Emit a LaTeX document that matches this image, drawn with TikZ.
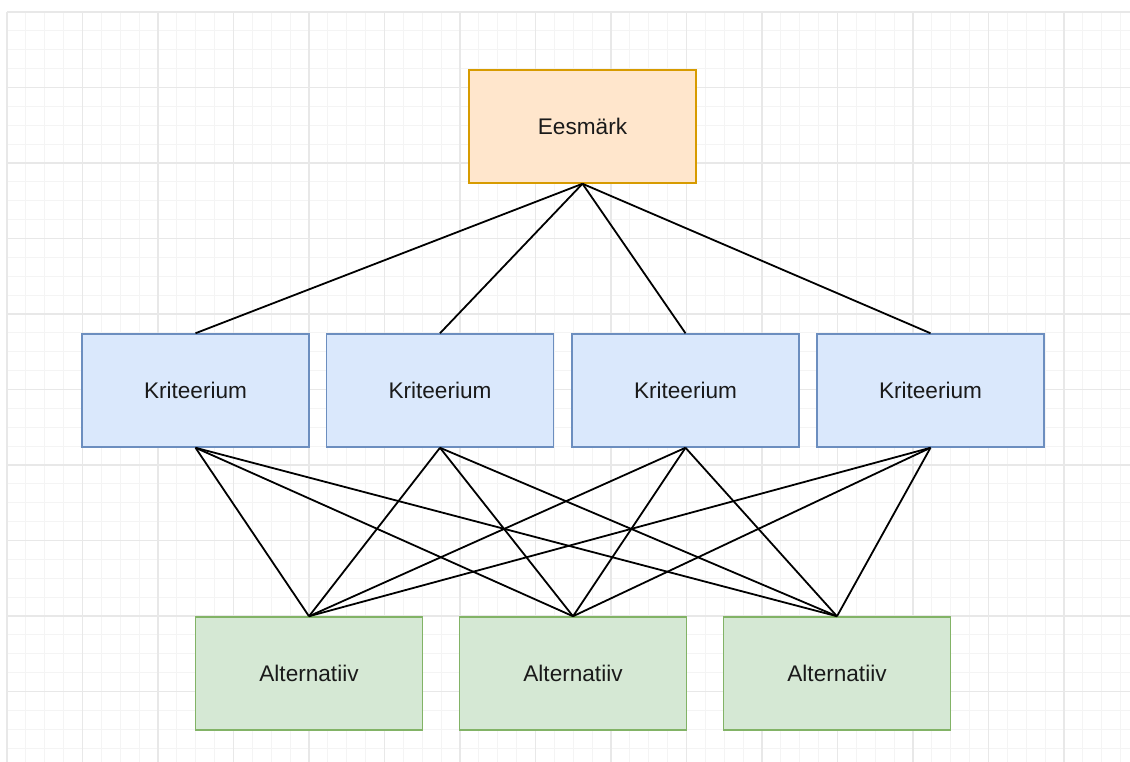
\documentclass[tikz,border=0pt]{standalone}
\usepackage{fontspec}
\setmainfont{Liberation Sans}
\definecolor{minorc}{HTML}{F4F4F4}
\definecolor{majorc}{HTML}{E8E8E8}
\definecolor{goalfill}{HTML}{FFE6CC}
\definecolor{goaldraw}{HTML}{D79B00}
\definecolor{critfill}{HTML}{DAE8FC}
\definecolor{critdraw}{HTML}{6C8EBF}
\definecolor{altfill}{HTML}{D5E8D4}
\definecolor{altdraw}{HTML}{82B366}
\definecolor{txt}{HTML}{1A1A1A}
\tikzset{
  minorgrid/.style={draw=minorc, line width=1pt},
  majorgrid/.style={draw=majorc, line width=1.2pt},
  boxbase/.style={rectangle, minimum width=227pt, minimum height=113pt, line width=1.5pt, text=txt, font=\fontsize{22.6}{26}\selectfont, inner sep=0pt},
  goalbox/.style={boxbase, fill=goalfill, draw=goaldraw},
  critbox/.style={boxbase, fill=critfill, draw=critdraw},
  altbox/.style={boxbase, fill=altfill, draw=altdraw},
  link/.style={draw=black, line width=1.8pt}
}
\begin{document}
\begin{tikzpicture}[x=1pt, y=-1pt]
\useasboundingbox (0,0) rectangle (1130,762);
\fill[white] (0,0) rectangle (1130,762);
\foreach \i in {0,...,59} { \draw[minorgrid] ({7+\i*18.875},12) -- ({7+\i*18.875},762); }
\foreach \i in {0,...,39} { \draw[minorgrid] (7,{12+\i*18.875}) -- (1130,{12+\i*18.875}); }
\foreach \i in {0,...,14} { \draw[majorgrid] ({7+\i*75.5},12) -- ({7+\i*75.5},762); }
\foreach \i in {0,...,9} { \draw[majorgrid] (7,{12+\i*75.5}) -- (1130,{12+\i*75.5}); }

\node[goalbox] (g) at (582.5,126.5) {Eesmärk};
\node[critbox] (k1) at (195.5,390.5) {Kriteerium};
\node[critbox] (k2) at (440,390.5) {Kriteerium};
\node[critbox] (k3) at (685.5,390.5) {Kriteerium};
\node[critbox] (k4) at (930.5,390.5) {Kriteerium};
\node[altbox] (a1) at (309,673.5) {Alternatiiv};
\node[altbox] (a2) at (573,673.5) {Alternatiiv};
\node[altbox] (a3) at (837,673.5) {Alternatiiv};

\foreach \k in {k1,k2,k3,k4} { \draw[link] (g.south) -- (\k.north); }
\foreach \k in {k1,k2,k3,k4} {
  \foreach \a in {a1,a2,a3} { \draw[link] (\k.south) -- (\a.north); }
}
\end{tikzpicture}
\end{document}
